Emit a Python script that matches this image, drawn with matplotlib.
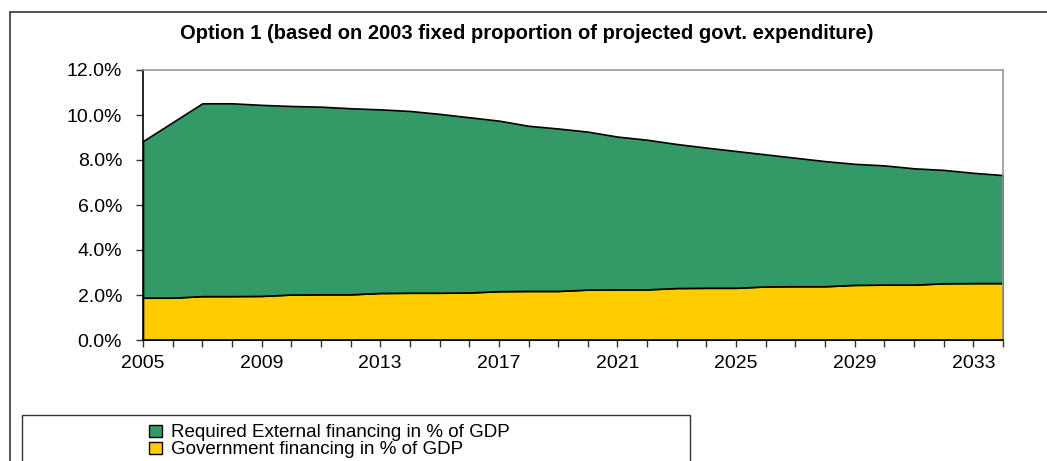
import matplotlib
matplotlib.use("Agg")
import matplotlib.pyplot as plt
from matplotlib.patches import Rectangle, Patch
from matplotlib.ticker import FuncFormatter, MultipleLocator
import numpy as np

plt.rcParams['font.family'] = ['Liberation Sans', 'DejaVu Sans']

years = list(range(2005, 2035))
# total financing requirement (% of GDP)
total_need = [8.84, 9.68, 10.52, 10.52, 10.45, 10.40, 10.37, 10.30, 10.25, 10.18,
              10.05, 9.90, 9.75, 9.52, 9.40, 9.26, 9.04, 8.90, 8.71, 8.55,
              8.40, 8.25, 8.10, 7.95, 7.83, 7.76, 7.63, 7.56, 7.43, 7.33]
gov_financing = [1.88, 1.88, 1.95, 1.95, 1.96, 2.02, 2.03, 2.03, 2.09, 2.10,
                 2.10, 2.11, 2.17, 2.18, 2.18, 2.24, 2.25, 2.25, 2.31, 2.32,
                 2.32, 2.38, 2.39, 2.39, 2.45, 2.46, 2.46, 2.52, 2.53, 2.53]
ext_financing = [t - g for t, g in zip(total_need, gov_financing)]

title = "Option 1 (based on 2003 fixed proportion of projected govt. expenditure)"
labels = ["Required External financing in % of GDP", "Government financing in % of GDP"]
col_gov = "#FFCC00"
col_ext = "#339966"

W, H = 1047, 461
fig = plt.figure(figsize=(W / 100, H / 100), dpi=100)
ax = fig.add_axes([143 / W, 1 - 340 / H, (1003 - 143) / W, (340 - 70) / H])

ax.stackplot(years, gov_financing, ext_financing, colors=[col_gov, col_ext],
             edgecolor="black", linewidth=1.2)

ax.set_xlim(2005, 2034)
ax.set_ylim(0, 12)
ax.yaxis.set_major_locator(MultipleLocator(2))
ax.yaxis.set_major_formatter(FuncFormatter(lambda v, p: f"{v:.1f}%"))
ax.set_xticks(years)
ax.set_xticklabels([str(y) if (y - 2005) % 4 == 0 else "" for y in years])
ax.tick_params(axis="both", labelsize=14, length=5, width=1, direction="out",
               color="#333333")
ax.tick_params(axis="x", pad=6)
ax.tick_params(axis="y", pad=10)

for side in ["top", "right"]:
    ax.spines[side].set_color("#999999")
    ax.spines[side].set_linewidth(1.2)
for side in ["left", "bottom"]:
    ax.spines[side].set_color("black")
    ax.spines[side].set_linewidth(1.2)

fig.text(527 / W, 1 - 33 / H, title, ha="center", va="center",
         fontsize=14.5, fontweight="bold")

# outer chart frame (runs off the right and bottom edges)
fig.add_artist(Rectangle((10 / W, -0.1), 1.2, 1 - 12 / H + 0.1,
                         transform=fig.transFigure, fill=False,
                         edgecolor="#333333", linewidth=1.2))
# legend frame
fig.add_artist(Rectangle((22 / W, -0.1), (690 - 22) / W, 1 - 415 / H + 0.1,
                         transform=fig.transFigure, fill=False,
                         edgecolor="#333333", linewidth=1.0))

handles = [Patch(facecolor=col_ext, edgecolor="black"),
           Patch(facecolor=col_gov, edgecolor="black")]
fig.legend(handles, labels, loc="upper left", bbox_to_anchor=(140 / W, 1 - 415 / H),
           frameon=False, fontsize=13.5, handlelength=0.65, handleheight=0.65,
           handletextpad=0.5, labelspacing=0.0, borderpad=0)

fig.savefig("out.png", dpi=100)
